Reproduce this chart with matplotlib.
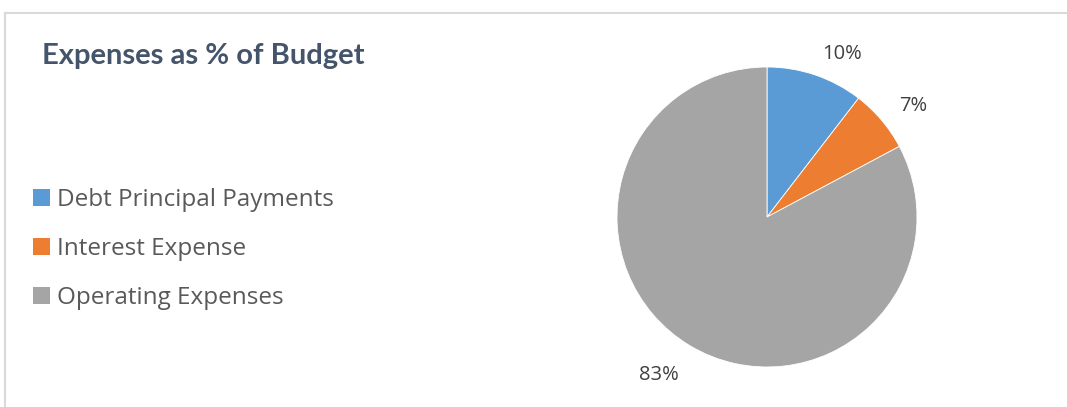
import matplotlib.pyplot as plt
from matplotlib.patches import Patch
from matplotlib.lines import Line2D

# data
categories = ["Debt Principal Payments", "Interest Expense", "Operating Expenses"]
shares = [10.45, 6.75, 82.8]
colors = ["#5B9BD5", "#ED7D31", "#A5A5A5"]

W, H = 1067, 407
fig = plt.figure(figsize=(W / 100, H / 100), dpi=100)
fig.patch.set_facecolor("white")

# chart border (top and left visible)
fig.add_artist(Line2D([4.5 / W, 1], [1 - 13 / H, 1 - 13 / H], color="#D9D9D9", lw=1.5))
fig.add_artist(Line2D([5 / W, 5 / W], [0, 1 - 13 / H], color="#D9D9D9", lw=1.5))

fig.text(42 / W, 1 - 56 / H, "Expenses as % of Budget", fontsize=21, fontweight="bold",
         color="#44546A", family="Lato", va="center", ha="left")

# pie, centre at (767, 217) px, radius 150 px
lim = 1.3
size = 150 * 2 * lim
ax = fig.add_axes([(767 - size / 2) / W, (H - 217 - size / 2) / H, size / W, size / H])
wedges, texts = ax.pie(shares, colors=colors, startangle=90, counterclock=False,
                       labels=["%.0f%%" % s for s in shares], labeldistance=1.15,
                       wedgeprops=dict(edgecolor="white", linewidth=0.6),
                       textprops=dict(fontsize=14.5, color="#404040", family="Open Sans"))
for t in texts:
    # labels below the centre sit under their anchor point, like Excel's outside-end
    if t.get_position()[1] < 0:
        t.set_va("top")
ax.set_xlim(-lim, lim)
ax.set_ylim(-lim, lim)
ax.set_aspect("equal")
ax.axis("off")

handles = [Patch(facecolor=c, edgecolor="none") for c in colors]
leg = fig.legend(handles, categories, loc="center left", bbox_to_anchor=(11 / W, 1 - 249 / H),
                 frameon=False, prop=dict(family="Open Sans", size=17.5),
                 handlelength=0.7, handleheight=0.7, handletextpad=0.3, labelspacing=1.03)
for t in leg.get_texts():
    t.set_color("#595959")

fig.savefig("out.png", dpi=100)
